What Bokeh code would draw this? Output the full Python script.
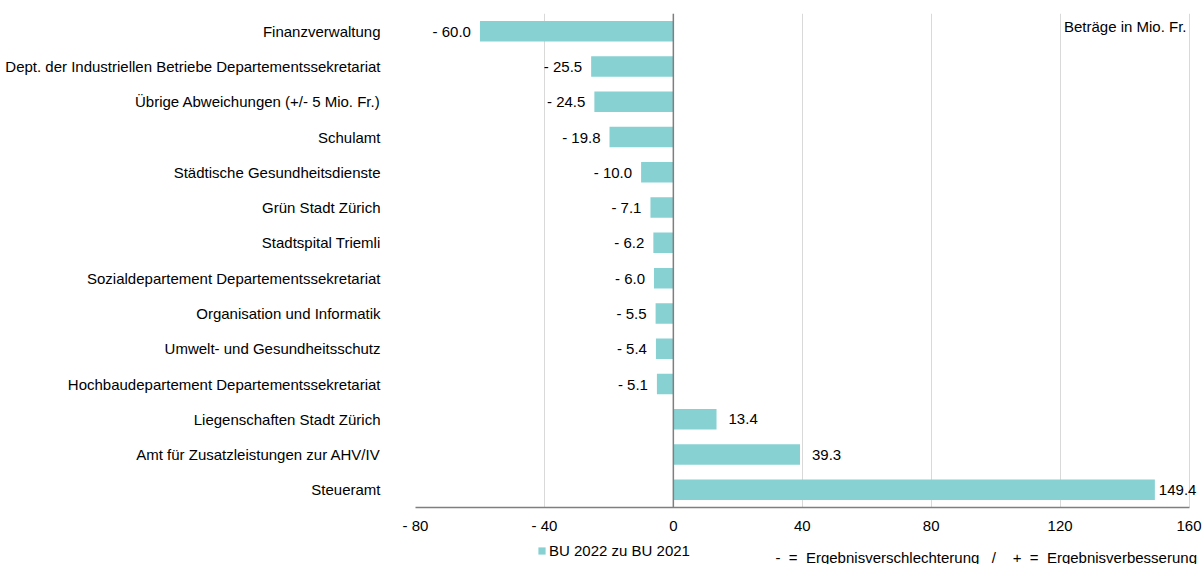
from bokeh.plotting import figure
from bokeh.layouts import column
from bokeh.models import (FactorRange, Range1d, ColumnDataSource, Span, Label,
                          Legend, LegendItem, FixedTicker, CustomJSTickFormatter)
from bokeh.core.properties import value
from bokeh.embed import file_html
from bokeh.resources import INLINE

categories = [
    "Finanzverwaltung",
    "Dept. der Industriellen Betriebe Departementssekretariat",
    "Übrige Abweichungen (+/- 5 Mio. Fr.)",
    "Schulamt",
    "Städtische Gesundheitsdienste",
    "Grün Stadt Zürich",
    "Stadtspital Triemli",
    "Sozialdepartement Departementssekretariat",
    "Organisation und Informatik",
    "Umwelt- und Gesundheitsschutz",
    "Hochbaudepartement Departementssekretariat",
    "Liegenschaften Stadt Zürich",
    "Amt für Zusatzleistungen zur AHV/IV",
    "Steueramt",
]
values = [-60.0, -25.5, -24.5, -19.8, -10.0, -7.1, -6.2, -6.0, -5.5, -5.4, -5.1, 13.4, 39.3, 149.4]
x_ticks = [-80, -40, 0, 40, 80, 120, 160]
series_name = "BU 2022 zu BU 2021"
unit_note = "Beträge in Mio. Fr."
# non-breaking spaces keep the wide spacing of the original footnote
sign_note = "-  =  Ergebnisverschlechterung   /    +  =  Ergebnisverbesserung".replace(" ", "\u00a0")

FONT = "Liberation Sans"
FS = "15px"
BAR = "#87D1D3"
TXT = "#000000"
W = 1204
H1 = 538
H2 = 26
FRAME_LEFT = 415


def fmt(v):
    return ("- %.1f" % abs(v)) if v < 0 else "%.1f" % v


x_min, x_max = x_ticks[0], x_ticks[-1]

neg = ColumnDataSource(dict(
    cat=[c for c, v in zip(categories, values) if v < 0],
    val=[v for v in values if v < 0],
    lbl=[fmt(v) for v in values if v < 0],
))
pos_vals = [v for v in values if v >= 0]
pos = ColumnDataSource(dict(
    cat=[c for c, v in zip(categories, values) if v >= 0],
    val=pos_vals,
    lbl=[fmt(v) for v in pos_vals],
    off=[12 if v < 0.9 * x_max else 4 for v in pos_vals],
))
allsrc = ColumnDataSource(dict(cat=categories, val=values))

p = figure(
    width=W, height=H1,
    x_range=Range1d(x_min, x_max + 4.8),
    y_range=FactorRange(*reversed(categories)),
    output_backend="svg", toolbar_location=None,
    min_border_left=FRAME_LEFT, min_border_right=0, min_border_top=13, min_border_bottom=H1 - 507,
)
p.outline_line_color = None
p.background_fill_color = "white"
p.border_fill_color = "white"

bars = p.hbar(y="cat", left=0, right="val", height=0.58, source=allsrc,
              fill_color=BAR, line_color=None)

p.add_layout(Span(location=0, dimension="height", line_color="#7f7f7f", line_width=1.5))

p.text(x="val", y="cat", text="lbl", source=neg, x_offset=-9,
       text_align="right", text_baseline="middle",
       text_font=value(FONT), text_font_size=FS, text_color=TXT)
p.text(x="val", y="cat", text="lbl", source=pos, x_offset="off",
       text_align="left", text_baseline="middle",
       text_font=value(FONT), text_font_size=FS, text_color=TXT)

# x axis
p.xaxis.ticker = FixedTicker(ticks=x_ticks)
p.xaxis.bounds = (x_min, x_max)
p.xaxis.formatter = CustomJSTickFormatter(code="return tick < 0 ? '- ' + Math.abs(tick) : '' + tick;")
p.xaxis.axis_line_color = "#7f7f7f"
p.xaxis.axis_line_width = 1.5
p.xaxis.major_tick_line_color = None
p.xaxis.minor_tick_line_color = None
p.xaxis.major_tick_out = 0
p.xaxis.major_label_standoff = 9
p.xaxis.major_label_text_font = FONT
p.xaxis.major_label_text_font_size = FS
p.xaxis.major_label_text_color = TXT

# y axis
p.yaxis.axis_line_color = None
p.yaxis.major_tick_line_color = None
p.yaxis.minor_tick_line_color = None
p.yaxis.major_tick_out = 0
p.yaxis.major_label_standoff = 35
p.yaxis.major_label_text_font = FONT
p.yaxis.major_label_text_font_size = FS
p.yaxis.major_label_text_color = TXT

p.xgrid.ticker = FixedTicker(ticks=x_ticks)
p.xgrid.bounds = (x_min, x_max)
p.xgrid.grid_line_color = "#d9d9d9"
p.xgrid.grid_line_width = 1
p.ygrid.grid_line_color = None

p.add_layout(Label(x=771, y=481, x_units="screen", y_units="screen", text=unit_note,
                   text_align="right", text_baseline="middle",
                   text_font=FONT, text_font_size=FS, text_color=TXT))

# legend strip below the chart (its frame is aligned with the chart frame)
p2 = figure(width=W, height=H2, x_range=Range1d(0, 1), y_range=Range1d(0, 1),
            output_backend="svg", toolbar_location=None,
            x_axis_location=None, y_axis_location=None,
            min_border_left=FRAME_LEFT, min_border_right=0, min_border_top=0, min_border_bottom=0)
p2.outline_line_color = None
p2.grid.grid_line_color = None
p2.border_fill_color = "white"
legend_r = p2.hbar(y=[0], left=[0], right=[0], height=0, fill_color=BAR, line_color=None)
legend = Legend(items=[LegendItem(label=series_name, renderers=[legend_r])],
                location=(537 - FRAME_LEFT, 5), orientation="horizontal",
                padding=0, margin=0, spacing=0, label_standoff=3,
                glyph_width=9, glyph_height=9, label_height=17,
                label_text_font=FONT, label_text_font_size=FS,
                label_text_color=TXT, background_fill_alpha=0,
                border_line_color=None)
p2.add_layout(legend, "center")
p2.add_layout(Label(x=775 - FRAME_LEFT, y=7, x_units="screen", y_units="screen", text=sign_note,
                    text_align="left", text_baseline="middle",
                    text_font=FONT, text_font_size=FS, text_color=TXT))

open("out.html", "w").write(file_html(column(p, p2, spacing=0), INLINE))
